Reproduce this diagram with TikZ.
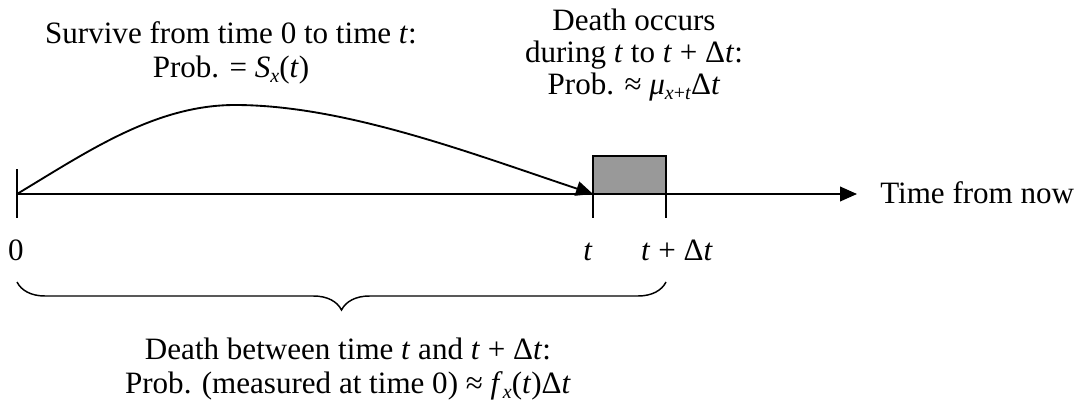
\documentclass[tikz,border=0pt]{standalone}
\usepackage{fontspec}
\setmainfont{Liberation Serif}
\usetikzlibrary{arrows.meta,decorations.pathreplacing}
\definecolor{boxgray}{RGB}{153,153,153}
\newcommand{\sbs}[1]{\raisebox{-0.35ex}{\fontsize{15}{15}\selectfont #1}}
\begin{document}
\begin{tikzpicture}[x=0.75pt,y=-0.75pt,
  lbl/.style={font=\fontsize{23.3}{26}\selectfont, inner sep=0pt, align=center},
  ln/.style={line width=1.4pt},
  tipar/.style={-{Triangle[length=12.75pt,width=11pt]}}]
\useasboundingbox (0,0) rectangle (1084,410);
% axis coordinates
\coordinate (O) at (17,194);
\coordinate (T) at (593,194);
\coordinate (TD) at (666,194);
\coordinate (E) at (857,194);
\coordinate (peak) at (235,105);
% shaded box
\draw[ln, fill=boxgray] (T) rectangle (666,156);
% axis
\draw[ln, tipar] (O) -- (E);
% ticks
\coordinate (O1) at (17,169);
\coordinate (O2) at (17,218);
\coordinate (T2) at (593,218);
\coordinate (TD2) at (666,218);
\draw[ln] (O1) -- (O2);
\draw[ln] (T) -- (T2);
\draw[ln] (TD) -- (TD2);
% survival curve
\draw[ln, tipar] (O) .. controls (87,152) and (155,105) .. (peak)
                  .. controls (345,105) and (473,154) .. (T);
% brace
\coordinate (B1) at (17,282);
\coordinate (B2) at (666,282);
\draw[decorate, decoration={brace, mirror, amplitude=21pt}, line width=1.1pt] (B1) -- (B2);
% labels
\node[lbl, anchor=base] (l0) at (16,260) {0};
\node[lbl, anchor=base] (lt) at (588,260) {\textit{t}};
\node[lbl, anchor=base] (ltd) at (677,260) {\textit{t} + Δ\textit{t}};
\node[lbl, anchor=west] (ltime) at (880,193) {Time from now};
\node[lbl] (surv) at (231,53) {Survive from time 0 to time \textit{t}:\\Prob. = \textit{S}\sbs{\textit{x}}(\textit{t})};
\node[lbl, font=\fontsize{23.3}{24}\selectfont] (death) at (634,55) {Death occurs\\during \textit{t} to \textit{t} + Δ\textit{t}:\\Prob. ≈ \textit{μ}\sbs{\textit{x}+\textit{t}}Δ\textit{t}};
\node[lbl] (between) at (348,369) {Death between time \textit{t} and \textit{t} + Δ\textit{t}:\\Prob. (measured at time 0) ≈ \textit{f}\sbs{\textit{x}}(\textit{t})Δ\textit{t}};
\end{tikzpicture}
\end{document}
